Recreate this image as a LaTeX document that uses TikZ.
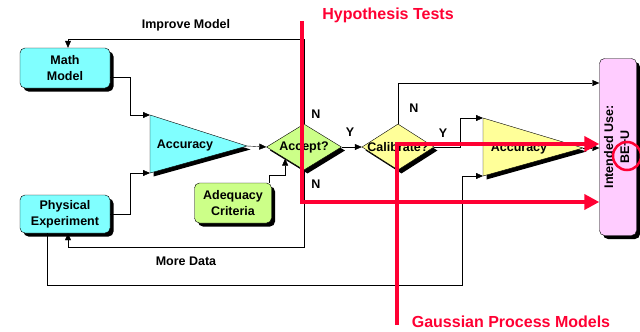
\documentclass[tikz,border=0pt]{standalone}
\usepackage{fontspec}
\setmainfont{Liberation Sans}
\usetikzlibrary{shapes.geometric,shadows,arrows.meta}
\definecolor{cyanfill}{HTML}{80FFFF}
\definecolor{greenfill}{HTML}{CCFF88}
\definecolor{yellowfill}{HTML}{FFFF99}
\definecolor{pinkfill}{HTML}{FFCCFF}
\definecolor{hired}{HTML}{FF0033}
\begin{document}
\begin{tikzpicture}[x=1pt,y=-1pt,font=\fontsize{12.5}{16}\selectfont\bfseries,
  shad/.style={drop shadow={opacity=1,fill=black,shadow xshift=3.5pt,shadow yshift=-3.5pt}},
  blk/.style={draw,rounded corners=5pt,align=center,inner sep=0pt,shad},
  dia/.style={draw,diamond,inner sep=0pt,minimum width=75pt,minimum height=46pt,shad},
  arr/.style={-{Triangle[length=7pt,width=6pt]}},
  big/.style={line width=4.5pt,-{Triangle[length=15pt,width=15pt]}}]
\useasboundingbox (0,0) rectangle (640,332);
% Kaesten
\node[blk,fill=cyanfill,minimum width=90pt,minimum height=40pt] (math) at (65,68) {Math\\Model};
\node[blk,fill=cyanfill,minimum width=90pt,minimum height=38pt] (phys) at (65,214) {Physical\\Experiment};
\node[blk,fill=greenfill,minimum width=77pt,minimum height=40pt] (adeq) at (233,203) {Adequacy\\Criteria};
\node[blk,fill=pinkfill,minimum width=37pt,minimum height=177pt] (use) at (618,147)
  {\rotatebox{90}{\begin{tabular}{@{}c@{}}Intended Use:\\BE+U\end{tabular}}};
\node[dia,fill=greenfill,label=center:Accept?] (accept) at (304,147) {};
\node[dia,fill=yellowfill,minimum width=72pt,label=center:Calibrate?] (calib) at (398,147) {};
% Dreiecke
\filldraw[fill=cyanfill,shad] (150,115) coordinate (accA-in1) -- (247,146) coordinate (accA-tip)
  -- (150,173) coordinate (accA-in2) -- cycle;
\node (accA) at (185,145) {Accuracy};
\filldraw[fill=yellowfill,shad] (483,118) coordinate (accB-in1) -- (583,148) coordinate (accB-tip)
  -- (483,176) coordinate (accB-in2) -- cycle;
\node (accB) at (519,148) {Accuracy};
% Verbindungen
\draw[arr] ([yshift=-9pt]math.east) -- ++(20,0) |- (accA-in1);
\draw[arr] (phys.east) -- ++(20,0) |- (accA-in2);
\draw[arr] (accA-tip) -- (accept.west);
\draw[arr] (accept.east) -- (calib.west);
\draw[arr] (accept.north) -- ++(0,-85) -| ([xshift=3pt]math.north);
\draw[arr] (accept.south) -- ++(0,77) -| ([xshift=3pt]phys.south);
\draw[arr] ([xshift=-3pt]adeq.north east) -- ++(0,-8) -| (accept.south west);
\draw[arr] (calib.north) |- ([yshift=64pt]use.west);
\draw[arr] (calib.east) -- ++(26,0) |- (accB-in1);
\draw[arr] ([xshift=-18pt]phys.south) |- (462,285) |- (accB-in2);
\draw[arr] (accB-tip) -- (accB-tip -| use.west);
\node (lblImprove) at (186,25) {Improve Model};
\node (lblMore) at (186,261) {More Data};
\node (nUp) at (316,114) {N};
\node (nDown) at (316,184) {N};
\node (nCal) at (414,108) {N};
\node (yAcc) at (350,132) {Y};
\node (yCal) at (443,133) {Y};
% rote Markierungen darueber
\begin{scope}[hired]
\node (hypTxt) at (388,15) {\fontsize{16}{18}\selectfont Hypothesis Tests};
\node (gpTxt) at (511,322) {\fontsize{16}{18}\selectfont Gaussian Process Models};
\coordinate (hypTop) at (302,21);
\coordinate (gpBot) at (397,325);
\draw[big] (hypTop) |- ([yshift=-55pt]use.west);
\draw[big] (gpBot) |- ([yshift=3pt]use.west);
\draw[line width=2.5pt] (627,156) circle (14pt);
\end{scope}
\end{tikzpicture}
\end{document}
